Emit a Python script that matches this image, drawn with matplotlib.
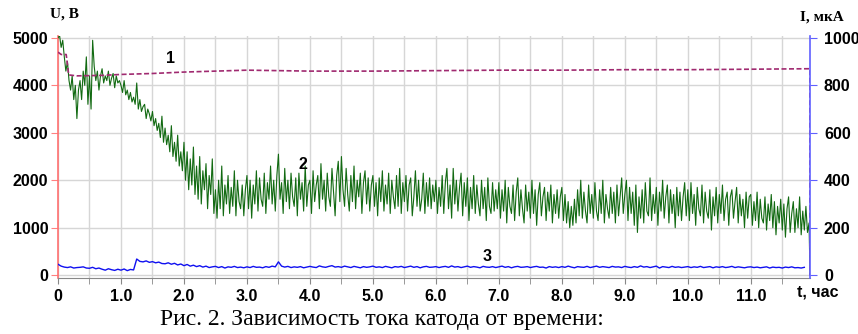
import matplotlib
matplotlib.use("Agg")
import matplotlib.pyplot as plt
import numpy as np

# ================= data =================
# curve 2: voltage U, V, one value every 0.025 h
U_STEP = 0.025
U_VALUES = [
    # 0 h
    5000, 5050, 4800, 4950, 4600, 4300, 4500, 4100, 3900, 4200, 3700, 4000, 3300, 3900, 4100, 3700, 4300, 4000, 4600, 3600,
    4200, 3500, 4950, 4400, 4100, 4300, 3900, 4200, 4350, 4050, 4200, 4100, 4300, 4000, 4150, 4250, 3950, 4200, 4050, 4100,
    # 1 h
    4000, 3850, 4100, 3800, 3900, 3700, 3850, 3650, 3750, 3600, 4050, 3500, 3700, 3450, 3550, 3600, 3300, 3500, 3400, 3250,
    3450, 3150, 3300, 3050, 3200, 2900, 3350, 2800, 3100, 2750, 2950, 2600, 3150, 2500, 2800, 2400, 2950, 2300, 2600, 2200,
    # 2 h
    2800, 2000, 2600, 1800, 2450, 1900, 2700, 1700, 2300, 1600, 2500, 1500, 2200, 1800, 2350, 1400, 2100, 1700, 2450, 1300,
    1800, 1200, 2000, 1400, 2300, 1250, 1900, 1500, 2100, 1300, 1850, 1450, 2200, 1250, 2000, 1550, 1400, 1900, 1250, 1800,
    # 3 h
    2100, 1400, 2000, 1200, 1900, 1500, 2200, 1350, 2050, 1600, 1450, 2150, 1300, 1950, 1600, 2300, 1500, 2000, 1350, 2100,
    2550, 1600, 1950, 1300, 2250, 1550, 2000, 1400, 2150, 1650, 1450, 2050, 1250, 2150, 1600, 1950, 1350, 2300, 1450, 1900,
    # 4 h
    2000, 1300, 2200, 1550, 1900, 2100, 1400, 2350, 1600, 2000, 1350, 2150, 1650, 1450, 2250, 1750, 1250, 2100, 2400, 1550,
    2500, 1800, 1450, 2250, 1700, 1350, 2100, 1550, 2300, 1400, 2000, 1650, 2150, 1300, 1950, 2200, 1500, 2050, 1350, 1900,
    # 5 h
    2100, 1450, 1950, 1250, 2050, 1550, 2200, 1350, 1900, 1500, 2150, 1300, 2000, 1650, 1400, 2100, 1450, 2250, 1300, 1950,
    1550, 2100, 1350, 1900, 2050, 1250, 1650, 2200, 1450, 2000, 1350, 1600, 2150, 1300, 1950, 1450, 2050, 1400, 1900, 1550,
    # 6 h
    2000, 1300, 1850, 1450, 2100, 1300, 1950, 2250, 1400, 1900, 1200, 2250, 1500, 2000, 1350, 1850, 2150, 1250, 1950, 1450,
    2050, 1150, 1850, 1400, 2100, 1300, 1900, 1500, 1250, 2000, 1400, 1850, 1150, 2050, 1450, 1300, 1950, 1350, 1800, 1400,
    # 7 h
    1950, 1200, 1800, 1350, 2000, 1100, 1850, 1450, 1300, 1900, 1150, 1750, 2050, 1250, 1800, 1400, 1100, 1900, 1350, 1750,
    1200, 2000, 1300, 1800, 1050, 1700, 1950, 1250, 1650, 1850, 1150, 1750, 1350, 1900, 1100, 1700, 1300, 1800, 1200, 1650,
    # 8 h
    1850, 1150, 1700, 1100, 1550, 1000, 1450, 1050, 1600, 1100, 1800, 1250, 2000, 1200, 1750, 1350, 1100, 1900, 1300, 1700,
    1200, 1950, 1350, 1150, 1800, 1300, 2000, 1100, 1700, 1400, 1200, 1850, 1300, 1750, 1100, 1900, 1250, 1650, 2050, 1300,
    # 9 h
    1700, 2000, 1150, 1850, 1300, 1750, 1050, 1900, 900, 1650, 1200, 1800, 1100, 1950, 1350, 1250, 2050, 1150, 1700, 1300,
    1850, 1050, 1750, 1350, 2000, 1200, 1650, 1900, 1100, 1800, 1300, 1700, 1000, 1850, 1250, 1750, 1150, 1650, 1950, 1250,
    # 10 h
    1800, 1150, 1950, 1300, 1700, 1050, 1850, 1400, 1250, 1900, 1100, 1750, 1350, 1200, 1800, 950, 1650, 1250, 1850, 1100,
    1700, 1300, 1900, 1150, 1600, 1750, 1050, 1650, 1800, 1200, 1550, 1850, 1100, 1700, 1250, 1600, 1000, 1750, 1200, 1650,
    # 11 h
    1700, 1050, 1550, 1150, 1750, 1000, 1600, 1200, 1100, 1650, 950, 1500, 1150, 1700, 1000, 1550, 850, 1450, 1100, 1600,
    950, 1500, 800, 1400, 1650, 900, 1300, 1550, 900, 1400, 1000, 1650, 850, 1350, 950, 1450, 900, 1100,
]

# curve 3: one value every 0.05 h (on the U scale)
I3_STEP = 0.05
I3_VALUES = [
    230, 190, 170, 160, 175, 150, 160, 165, 175, 150, 145, 165, 135, 150, 125, 105, 135, 115, 100, 125,
    105, 130, 95, 120, 110, 340, 290, 280, 300, 270, 285, 260, 275, 245, 240, 260, 230, 250, 215, 235,
    200, 225, 190, 210, 180, 200, 170, 190, 160, 175, 185, 160, 180, 150, 175, 165, 185, 160, 170, 155,
    175, 160, 185, 165, 170, 155, 180, 165, 190, 175, 280, 190, 170, 185, 160, 175, 165, 180, 155, 170,
    185, 170, 160, 195, 175, 165, 185, 200, 170, 180, 165, 190, 175, 160, 185, 170, 155, 180, 165, 175,
    190, 165, 175, 160, 185, 170, 155, 180, 170, 185, 160, 175, 190, 165, 180, 155, 175, 185, 165, 170,
    180, 160, 175, 185, 165, 195, 170, 180, 160, 175, 190, 165, 180, 170, 155, 185, 170, 165, 180, 160,
    175, 190, 165, 180, 155, 175, 185, 165, 170, 180, 160, 175, 185, 165, 170, 150, 180, 165, 175, 160,
    180, 165, 190, 170, 155, 180, 170, 165, 185, 160, 175, 190, 165, 180, 170, 160, 185, 170, 175, 160,
    185, 170, 160, 180, 165, 195, 170, 180, 160, 175, 190, 150, 180, 170, 160, 185, 165, 175, 160, 170,
    180, 160, 175, 165, 185, 160, 170, 180, 155, 175, 165, 180, 160, 170, 185, 160, 175, 165, 155, 170,
    175, 160, 170, 155, 165, 175, 150, 170, 160, 165, 150, 170, 160, 175, 155, 160, 150, 165,
]

# curve 1: current (plotted on the U scale, I = U / 5)
C1_T = [0.0, 0.05, 0.13, 0.17, 0.3, 0.7, 1.0, 1.5, 2.0, 2.5, 3.0, 4.0, 5.0, 6.0, 7.0, 8.0, 9.0, 10.0, 11.0, 11.9, 11.94, 11.94]
C1_U = [4700, 4650, 4650, 4220, 4200, 4210, 4230, 4250, 4280, 4300, 4320, 4300, 4300, 4310, 4320, 4320, 4330, 4330, 4340, 4350, 4350, 0]

END_T = 11.94
X_LABELS = ['0', '1.0', '2.0', '3.0', '4.0', '5.0', '6.0', '7.0', '8.0', '9.0', '10.0', '11.0']
Y_LEFT = [0, 1000, 2000, 3000, 4000, 5000]
Y_RIGHT = [0, 200, 400, 600, 800, 1000]

# ================= plot =================
fig = plt.figure(figsize=(8.58, 3.34), dpi=100)
ax = fig.add_axes([58 / 858, 1 - 278 / 334, (810 - 58) / 858, (278 - 36) / 334])

u = np.array(U_VALUES, dtype=float)
tu = np.arange(len(u)) * U_STEP
tu = np.append(tu, END_T)
u = np.append(u, 0)
i3 = np.array(I3_VALUES, dtype=float)
t3 = np.arange(len(i3)) * I3_STEP

ax.plot(t3, i3, color='#1010f0', lw=1.0, zorder=3)
ax.plot(tu, u, color='#126a12', lw=0.8, zorder=4)
ax.plot(C1_T, C1_U, color='#a02a70', lw=1.2, ls=(0, (3, 1.5)), zorder=5)

ax.set_xlim(0, END_T)
ax.set_ylim(-60, 5040)
ax.set_xticks(range(len(X_LABELS)))
ax.set_xticklabels(X_LABELS)
ax.set_xticks(np.arange(0.5, END_T, 1.0), minor=True)
ax.set_yticks(Y_LEFT)
ax.grid(True, which='both', color='#d6d6d6', lw=1.0, zorder=0)
ax.set_axisbelow(True)

TICK_FONT = dict(fontweight='bold', family='Liberation Sans', fontsize=11.5)
for lab in ax.get_xticklabels() + ax.get_yticklabels():
    lab.set(**TICK_FONT)

ax.tick_params(axis='x', which='both', length=4, color='#888888', pad=4)
ax.tick_params(axis='y', length=5, color='#ff8080', pad=2)
ax.spines['left'].set_color('#ff7070')
ax.spines['left'].set_linewidth(1.2)
ax.spines['bottom'].set_color('#888888')
ax.spines['top'].set_visible(False)
ax.spines['right'].set_visible(False)

ax2 = ax.twinx()
ax2.set_ylim(np.array(ax.get_ylim()) / 5)
ax2.set_yticks(Y_RIGHT)
ax2.spines['right'].set_color('#6060ff')
ax2.spines['right'].set_linewidth(1.2)
for s in ['top', 'left', 'bottom']:
    ax2.spines[s].set_visible(False)
ax2.tick_params(axis='y', length=5, color='#6060ff', pad=5)
for lab in ax2.get_yticklabels():
    lab.set(**TICK_FONT)

# curve numbers
ax.text(1.78, 4560, '1', ha='center', va='center', zorder=6, **TICK_FONT)
ax.text(3.89, 2330, '2', ha='center', va='center', zorder=6, **TICK_FONT)
ax.text(6.82, 400, '3', ha='center', va='center', zorder=6, **TICK_FONT)

# axis titles
fig.text(50 / 858, 1 - 14 / 334, 'U, B', fontsize=11, fontweight='bold', family='Liberation Serif', ha='left', va='center')
fig.text(844 / 858, 1 - 17 / 334, 'I, мкА', fontsize=11, fontweight='bold', family='Liberation Serif', ha='right', va='center')
fig.text(818 / 858, 1 - 292 / 334, 't, час', ha='center', va='center', **TICK_FONT)

# caption
fig.text(382 / 858, 1 - 320 / 334, 'Рис. 2. Зависимость тока катода от времени:', fontsize=17,
         family='Liberation Serif', ha='center', va='center')

fig.savefig('out.png', dpi=100)
